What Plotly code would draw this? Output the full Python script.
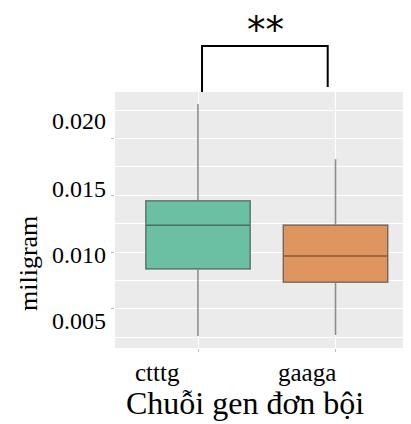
import plotly.graph_objects as go

categories = ["ctttg", "gaaga"]
lower_whisker = [0.00259, 0.00268]
q1_values = [0.00850, 0.00733]
median_values = [0.01235, 0.00965]
q3_values = [0.01452, 0.01238]
upper_whisker = [0.02305, 0.01817]
fill_colors = ["#6BBFA3", "#DF955F"]
y_tick_values = [0.005, 0.010, 0.015, 0.020]
y_tick_labels = ["0.005", "0.010", "0.015", "0.020"]
significance = "**"
x_title = "Chuỗi gen đơn bội"
y_title = "miligram"

SERIF = "Liberation Serif, Times New Roman, serif"

fig = go.Figure()
for i, cat in enumerate(categories):
    fig.add_trace(go.Box(
        x=[cat],
        q1=[q1_values[i]],
        median=[median_values[i]],
        q3=[q3_values[i]],
        lowerfence=[lower_whisker[i]],
        upperfence=[upper_whisker[i]],
        fillcolor=fill_colors[i],
        line=dict(color="rgba(45,45,45,0.55)", width=1.5),
        width=0.76,
        whiskerwidth=0,
        boxpoints=False,
        showlegend=False,
        hoverinfo="skip",
    ))

# page body has an 8px margin, so the figure is 8px smaller and margins shifted
fig.update_layout(
    width=403, height=416,
    margin=dict(l=107, r=0, t=84, b=76),
    paper_bgcolor="white",
    plot_bgcolor="#EBEBEB",
    showlegend=False,
    font=dict(family=SERIF, color="black"),
)
fig.update_xaxes(
    type="category",
    categoryorder="array", categoryarray=categories,
    range=[-0.6036, 1.549],
    showgrid=True, gridcolor="white", gridwidth=1,
    showticklabels=False,
    ticks="outside", ticklen=3, tickcolor="#BBBBBB",
    zeroline=False, showline=False,
)
fig.update_yaxes(
    range=[0.001534, 0.02411],
    tickvals=y_tick_values,
    showticklabels=False,
    showgrid=True, gridcolor="white", gridwidth=1,
    minor=dict(dtick=0.0025, tick0=0.0025, showgrid=True, gridcolor="white", gridwidth=0.7),
    ticks="outside", ticklen=3, tickcolor="#BBBBBB",
    zeroline=False, showline=False,
)

annotations = []
# y tick labels (offsets replicate the reference's label placement)
y_shifts = [-12, -3, 6, 18]
for v, lab, s in zip(y_tick_values, y_tick_labels, y_shifts):
    annotations.append(dict(
        x=0, xref="paper", y=v, yref="y", text=lab, showarrow=False,
        xanchor="right", yanchor="middle", xshift=-7, yshift=s,
        font=dict(family=SERIF, size=24, color="black"),
    ))
# x tick labels
x_shifts = [-41, -29]
for i, cat in enumerate(categories):
    annotations.append(dict(
        x=i, xref="x", y=0, yref="paper", text=cat, showarrow=False,
        xanchor="center", yanchor="middle", xshift=x_shifts[i], yshift=-24,
        font=dict(family=SERIF, size=25, color="black"),
    ))
# axis titles
annotations.append(dict(
    x=0.439, xref="paper", y=0, yref="paper", text=x_title, showarrow=False,
    xanchor="center", yanchor="middle", yshift=-55,
    font=dict(family=SERIF, size=32, color="black"),
))
annotations.append(dict(
    x=-0.294, xref="paper", y=0.332, yref="paper", text=y_title, showarrow=False,
    xanchor="center", yanchor="middle", textangle=-90,
    font=dict(family=SERIF, size=26, color="black"),
))
# significance label (anchored at the top edge of the figure)
annotations.append(dict(
    x=0.507, xref="paper", y=1.0 + 84 / 256, yref="paper", text=significance, showarrow=False,
    xanchor="center", yanchor="top", borderpad=0,
    font=dict(family="DejaVu Sans, sans-serif", size=37, color="black"),
))
fig.update_layout(annotations=annotations)

fig.add_shape(
    type="path", xref="paper", yref="paper",
    path="M 0.294 1.0 L 0.294 1.1797 L 0.7186 1.1797 L 0.7186 1.0195",
    line=dict(color="black", width=2),
)

fig.write_html("out.html")
